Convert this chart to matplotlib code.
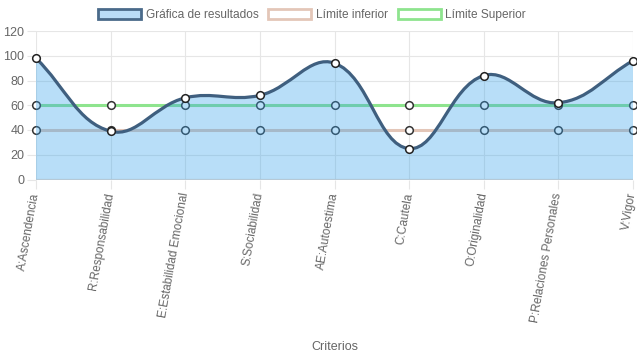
import numpy as np
import matplotlib.pyplot as plt
from matplotlib.path import Path
from matplotlib.patches import PathPatch, Patch

plt.rcParams['font.family'] = ['Liberation Sans', 'DejaVu Sans']

criterios = ['A:Ascendencia', 'R:Responsabilidad', 'E:Estabilidad Emocional',
             'S:Sociabilidad', 'AE:Autoestima', 'C:Cautela', 'O:Originalidad',
             'P:Relaciones Personales', 'V:Vigor']
resultados = [98, 39, 66, 68, 94, 25, 84, 62, 96]
limite_inferior = [40, 40, 40, 40, 40, 40, 40, 40, 40]
limite_superior = [60, 60, 60, 60, 60, 60, 60, 60, 60]

c_res = '#3f5f7f'
c_fill = '#36a2eb'
c_inf = '#e3c6b8'
c_sup = '#8ee48e'
c_grid = '#e6e6e6'
c_text = '#666666'


def spline_verts(xs, ys, sx, sy, tension=0.4):
    # chart.js-like bezier control points, distances in pixel space
    px = np.asarray(xs, float) * sx
    py = np.asarray(ys, float) * sy
    n = len(px)
    cps = []
    for i in range(n):
        a = max(i - 1, 0)
        b = min(i + 1, n - 1)
        d01 = np.hypot(px[i] - px[a], py[i] - py[a])
        d12 = np.hypot(px[b] - px[i], py[b] - py[i])
        tot = d01 + d12
        s01 = d01 / tot if tot else 0
        s12 = d12 / tot if tot else 0
        fa, fb = tension * s01, tension * s12
        prev = (px[i] - fa * (px[b] - px[a]), py[i] - fa * (py[b] - py[a]))
        nxt = (px[i] + fb * (px[b] - px[a]), py[i] + fb * (py[b] - py[a]))
        cps.append((prev, nxt))
    verts = [(xs[0], ys[0])]
    codes = [Path.MOVETO]
    for i in range(1, n):
        c1 = cps[i - 1][1]
        c2 = cps[i][0]
        verts += [(c1[0] / sx, c1[1] / sy), (c2[0] / sx, c2[1] / sy), (xs[i], ys[i])]
        codes += [Path.CURVE4] * 3
    return verts, codes


fig = plt.figure(figsize=(6.37, 3.59), dpi=100)
ax = fig.add_axes([36 / 637, 1 - 179.5 / 359, 597 / 637, 148.5 / 359])

x = np.arange(len(criterios))
ax.set_xlim(0, len(criterios) - 1)
ax.set_ylim(0, 120)

# limit lines first, the blue fill goes over them
ax.plot(x, limite_inferior, color=c_inf, lw=2.2, zorder=2, clip_on=False)
ax.plot(x, limite_superior, color=c_sup, lw=2.2, zorder=2, clip_on=False)
ax.plot(x, limite_inferior, 'o', ms=5.5, mfc='white', mec='#333333', mew=1.1, zorder=2.1, clip_on=False)
ax.plot(x, limite_superior, 'o', ms=5.5, mfc='white', mec='#333333', mew=1.1, zorder=2.1, clip_on=False)

verts, codes = spline_verts(x, resultados, 74.6, 1.237)
fill_verts = verts + [(x[-1], 0), (x[0], 0), (x[0], resultados[0])]
fill_codes = codes + [Path.LINETO, Path.LINETO, Path.CLOSEPOLY]
ax.add_patch(PathPatch(Path(fill_verts, fill_codes), facecolor=c_fill, alpha=0.35,
                       edgecolor='none', zorder=3))
ax.add_patch(PathPatch(Path(verts, codes), facecolor='none', edgecolor=c_res,
                       lw=2.3, zorder=4, capstyle='round', joinstyle='round'))
ax.plot(x, resultados, 'o', ms=5.5, mfc='white', mec='#222222', mew=1.1, zorder=5, clip_on=False)

ax.axhline(0, color='#d2d2d2', lw=1.6, zorder=2.5)

for s in ax.spines.values():
    s.set_visible(False)
ax.grid(True, color=c_grid, lw=0.8)
ax.set_axisbelow(True)

ax.set_yticks(np.arange(0, 121, 20))
ax.set_xticks(x)
ax.set_xticklabels(criterios, rotation=80, ha='right', va='center', rotation_mode='anchor')
ax.tick_params(axis='both', length=6.5, width=0.8, color=c_grid, labelcolor=c_text,
               labelsize=9, pad=2)
ax.tick_params(axis='x', labelsize=8.5, pad=3)

fig.text(334.5 / 637, 1 - 347 / 359, 'Criterios', ha='center', va='center',
         fontsize=9, color=c_text)

handles = [
    Patch(facecolor='#b9dcf7', edgecolor='#4a6a8a', lw=2, label='Gráfica de resultados'),
    Patch(facecolor='white', edgecolor=c_inf, lw=2, label='Límite inferior'),
    Patch(facecolor='white', edgecolor=c_sup, lw=2, label='Límite Superior'),
]
leg = fig.legend(handles=handles, loc='center', bbox_to_anchor=(312 / 637, 1 - 15 / 359), ncol=3,
                 frameon=False, fontsize=8.6, handlelength=3.6, handleheight=0.9,
                 handletextpad=0.4, columnspacing=0.8, borderpad=0)
for t in leg.get_texts():
    t.set_color(c_text)

fig.savefig('out.png', dpi=100)
